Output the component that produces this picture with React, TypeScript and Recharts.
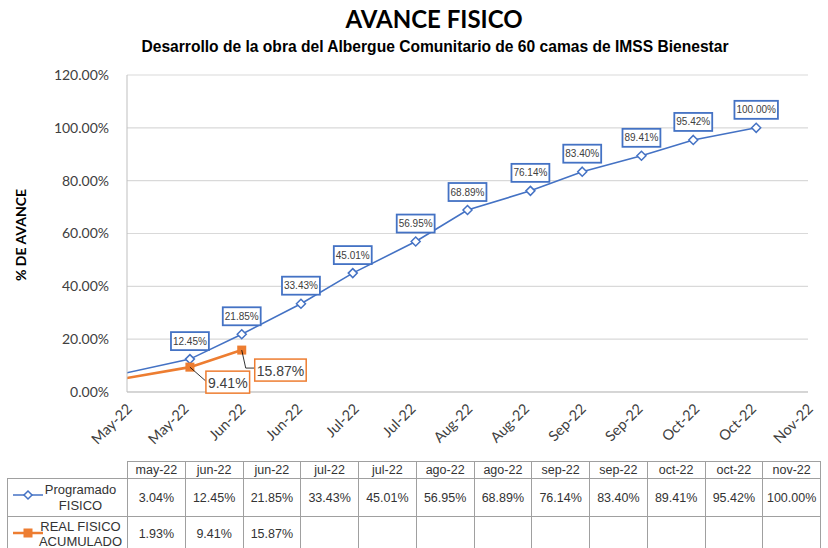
import { CartesianGrid, Line, LineChart, XAxis, YAxis } from "recharts";

const fechas = [
  "2022-05-01", "2022-06-01", "2022-06-15", "2022-07-01", "2022-07-15", "2022-08-01",
  "2022-08-15", "2022-09-01", "2022-09-15", "2022-10-01", "2022-10-15", "2022-11-01",
];
const mesesTabla = [
  "may-22", "jun-22", "jun-22", "jul-22", "jul-22", "ago-22",
  "ago-22", "sep-22", "sep-22", "oct-22", "oct-22", "nov-22",
];
const programado = [3.04, 12.45, 21.85, 33.43, 45.01, 56.95, 68.89, 76.14, 83.4, 89.41, 95.42, 100];
const realAcumulado: (number | null)[] = [1.93, 9.41, 15.87, null, null, null, null, null, null, null, null, null];
const xTickLabels = [
  "May-22", "May-22", "Jun-22", "Jun-22", "Jul-22", "Jul-22", "Aug-22",
  "Aug-22", "Sep-22", "Sep-22", "Oct-22", "Oct-22", "Nov-22",
];
const yTicks = [0, 20, 40, 60, 80, 100, 120];

const DAY = 86400000;
const dayNum = (s: string) => Math.round(Date.parse(s + "T00:00:00Z") / DAY);
const xMin = dayNum("2022-05-15");
const xMax = dayNum("2022-11-15");
const xTicks = xTickLabels.map((_, i) => xMin + ((xMax - xMin) * i) / (xTickLabels.length - 1));

const rows = fechas.map((f, i) => ({
  t: dayNum(f),
  programado: programado[i],
  real: realAcumulado[i],
}));

const BLUE = "#4472C4";
const ORANGE = "#ED7D31";
const CALIBRI = "Lato, 'Open Sans', sans-serif";
const ARIAL = "'Liberation Sans', Arial, sans-serif";

const pct = (v: number) => `${v.toFixed(2)}%`;
const textW = (s: string, fs: number) =>
  s.split("").reduce((a, c) => a + (c === "." ? 0.278 : c === "%" ? 0.889 : 0.556), 0) * fs;

const BlueDot = (p: any) => {
  const { cx, cy, index } = p;
  if (index === 0 || cx == null) return null;
  const r = 4.5;
  return (
    <path
      key={`bd${index}`}
      d={`M${cx},${cy - r}L${cx + r},${cy}L${cx},${cy + r}L${cx - r},${cy}Z`}
      fill="#fff"
      stroke={BLUE}
      strokeWidth={1.5}
    />
  );
};

const OrangeDot = (p: any) => {
  const { cx, cy, index, value } = p;
  if (index === 0 || cx == null || value == null) return null;
  return <rect key={`od${index}`} x={cx - 4.5} y={cy - 4.5} width={9} height={9} fill={ORANGE} />;
};

const BlueLabel = (p: any) => {
  const { x, y, value, index } = p;
  if (index === 0 || value == null) return null;
  const s = pct(value);
  const w = textW(s, 10) + 4;
  return (
    <g key={`bl${index}`}>
      <rect x={x - w / 2} y={y - 27} width={w} height={18} fill="#fff" stroke={BLUE} strokeWidth={1.8} />
      <text x={x} y={y - 18} textAnchor="middle" dominantBaseline="central" fontSize={10} fontFamily={ARIAL} fill="#404040">
        {s}
      </text>
    </g>
  );
};

const orangeOffsets: Record<number, { dx: number; dy: number; path: (x: number, y: number) => string }> = {
  1: { dx: 16, dy: 4, path: (x, y) => `M${x},${y}L${x + 16},${y + 14}` },
  2: { dx: 13, dy: 9, path: (x, y) => `M${x},${y}L${x + 4},${y + 18}L${x + 13},${y + 18}` },
};

const OrangeLabel = (p: any) => {
  const { x, y, value, index } = p;
  const off = orangeOffsets[index];
  if (!off || value == null) return null;
  const s = pct(value);
  const w = textW(s, 14) + 4;
  return (
    <g key={`ol${index}`}>
      <path d={off.path(x, y)} stroke="#000" strokeWidth={0.8} fill="none" />
      <rect x={x + off.dx} y={y + off.dy} width={w} height={22} fill="#fff" stroke={ORANGE} strokeWidth={1.5} />
      <text x={x + off.dx + w / 2} y={y + off.dy + 11.5} textAnchor="middle" dominantBaseline="central" fontSize={14} fontFamily={ARIAL} fill="#404040">
        {s}
      </text>
    </g>
  );
};

const XTick = (p: any) => {
  const { x, y, index } = p;
  const tx = x + 2;
  const ty = y + 6;
  return (
    <text
      x={tx}
      y={ty}
      transform={`rotate(-45 ${tx} ${ty})`}
      textAnchor="end"
      dominantBaseline="central"
      fontSize={14.5}
      fontFamily={CALIBRI}
      fill="#404040"
    >
      {xTickLabels[index]}
    </text>
  );
};

const cell: React.CSSProperties = {
  border: "1px solid #a0a0a0",
  textAlign: "center",
  padding: 0,
  fontFamily: ARIAL,
  fontSize: 12.5,
  color: "#333",
};

function LegendKey({ color, square }: { color: string; square?: boolean }) {
  return (
    <svg width={32} height={12} style={{ position: "absolute", left: 4, top: 10 }}>
      <line x1={1} y1={6} x2={31} y2={6} stroke={color} strokeWidth={square ? 2.5 : 1.5} />
      {square ? (
        <rect x={11.5} y={1.5} width={9} height={9} fill={color} />
      ) : (
        <path d="M16,2L20,6L16,10L12,6Z" fill="#fff" stroke={color} strokeWidth={1.5} />
      )}
    </svg>
  );
}

export default function App() {
  return (
    <div style={{ position: "absolute", left: 0, top: 0, width: 828, height: 548, background: "#fff", overflow: "hidden" }}>
      <div style={{ position: "absolute", left: 0, width: 868, top: 4, textAlign: "center", fontFamily: CALIBRI, fontWeight: 700, fontSize: 24, color: "#000" }}>
        AVANCE FISICO
      </div>
      <div style={{ position: "absolute", left: 0, width: 870, top: 38, textAlign: "center", fontFamily: ARIAL, fontWeight: 700, fontSize: 15.6, color: "#000" }}>
        Desarrollo de la obra del Albergue Comunitario de 60 camas de IMSS Bienestar
      </div>
      <div
        style={{
          position: "absolute",
          left: 20,
          top: 235,
          transform: "translate(-50%, -50%) rotate(-90deg)",
          whiteSpace: "nowrap",
          fontFamily: CALIBRI,
          fontWeight: 700,
          fontSize: 14,
          color: "#000",
        }}
      >
        % DE AVANCE
      </div>
      <div style={{ position: "absolute", left: 0, top: 0 }}>
        <LineChart width={828} height={460} data={rows} margin={{ top: 75, right: 20, left: 47, bottom: 8 }}>
          <CartesianGrid horizontal vertical={false} stroke="#d9d9d9" strokeWidth={1.2} />
          <XAxis
            dataKey="t"
            type="number"
            domain={[xMin, xMax]}
            ticks={xTicks}
            allowDataOverflow
            interval={0}
            tick={<XTick />}
            tickLine={false}
            axisLine={{ stroke: "#bfbfbf" }}
            height={60}
          />
          <YAxis
            domain={[0, 120]}
            ticks={yTicks}
            width={80}
            tickLine={false}
            axisLine={{ stroke: "#bfbfbf" }}
            tickFormatter={(v: number) => pct(v)}
            tick={{ fontSize: 14, fontFamily: CALIBRI, fill: "#404040" }}
            tickMargin={12}
          />
          <Line
            dataKey="programado"
            stroke={BLUE}
            strokeWidth={1.6}
            dot={<BlueDot />}
            label={<BlueLabel />}
            isAnimationActive={false}
          />
          <Line
            dataKey="real"
            stroke={ORANGE}
            strokeWidth={2.6}
            dot={<OrangeDot />}
            label={<OrangeLabel />}
            isAnimationActive={false}
          />
        </LineChart>
      </div>
      <table
        style={{
          position: "absolute",
          left: 7,
          top: 461,
          borderCollapse: "collapse",
          tableLayout: "fixed",
          width: 813,
        }}
      >
        <colgroup>
          <col style={{ width: 120 }} />
          {mesesTabla.map((_, i) => (
            <col key={i} style={{ width: 57.75 }} />
          ))}
        </colgroup>
        <tbody>
          <tr style={{ height: 17 }}>
            <td style={{ ...cell, borderTop: "none", borderLeft: "none" }} />
            {mesesTabla.map((m, i) => (
              <td key={i} style={cell}>{m}</td>
            ))}
          </tr>
          <tr style={{ height: 38 }}>
            <td style={{ ...cell, position: "relative", lineHeight: "16px", fontSize: 13 }}>
              <LegendKey color={BLUE} />
              <div style={{ paddingLeft: 26 }}>Programado<br />FISICO</div>
            </td>
            {programado.map((v, i) => (
              <td key={i} style={cell}>{pct(v)}</td>
            ))}
          </tr>
          <tr style={{ height: 38 }}>
            <td style={{ ...cell, position: "relative", lineHeight: "15px", verticalAlign: "top", paddingTop: 2, fontSize: 13 }}>
              <LegendKey color={ORANGE} square />
              <div style={{ paddingLeft: 26 }}>REAL FISICO<br />ACUMULADO</div>
            </td>
            {realAcumulado.map((v, i) => (
              <td key={i} style={{ ...cell, verticalAlign: "top", paddingTop: 10 }}>{v == null ? "" : pct(v)}</td>
            ))}
          </tr>
        </tbody>
      </table>
    </div>
  );
}
